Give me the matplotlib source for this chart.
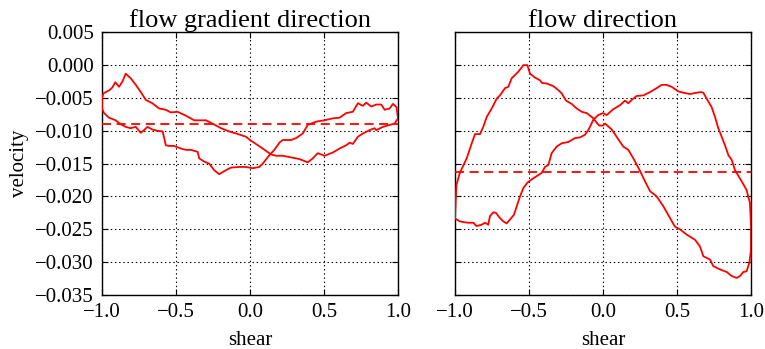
import matplotlib
matplotlib.use("Agg")
import matplotlib.pyplot as plt
from matplotlib.ticker import FuncFormatter

# Velocity loops over one shear cycle, two directions
grad_shear = [-1.0, -0.99, -0.95, -0.93, -0.91, -0.885, -0.862, -0.84, -0.806, -0.772,
              -0.738, -0.704, -0.66, -0.614, -0.569, -0.535, -0.49, -0.433, -0.377, -0.298,
              -0.253, -0.196, -0.14, -0.095, -0.027, 0.0, 0.04, 0.086, 0.142, 0.176,
              0.221, 0.289, 0.334, 0.39, 0.424, 0.458, 0.503, 0.56, 0.605, 0.65,
              0.673, 0.695, 0.729, 0.763, 0.808, 0.842, 0.853, 0.898, 0.943, 0.977,
              1.0,
              0.99, 0.966, 0.943, 0.91, 0.887, 0.853, 0.819, 0.785, 0.763, 0.729,
              0.695, 0.65, 0.605, 0.56, 0.503, 0.447, 0.39, 0.357, 0.312, 0.278,
              0.221, 0.199, 0.165, 0.131, 0.086, 0.063, 0.018, -0.027, -0.072, -0.129,
              -0.163, -0.208, -0.242, -0.275, -0.309, -0.343, -0.354, -0.4, -0.433, -0.467,
              -0.513, -0.546, -0.569, -0.59, -0.625, -0.66, -0.693, -0.716, -0.738, -0.772,
              -0.806, -0.84, -0.874, -0.908, -0.953, -0.986, -1.0, -1.0]
grad_velocity = [-0.0050, -0.0043, -0.0038, -0.0034, -0.0026, -0.0033, -0.0025, -0.0013, -0.0020, -0.0030,
                 -0.0041, -0.0053, -0.0058, -0.0066, -0.0068, -0.0072, -0.0071, -0.0077, -0.0084, -0.0084,
                 -0.0089, -0.0096, -0.0101, -0.0104, -0.0109, -0.0114, -0.0120, -0.0127, -0.0136, -0.0138,
                 -0.0138, -0.0141, -0.0143, -0.0148, -0.0142, -0.0134, -0.0138, -0.0133, -0.0127, -0.0122,
                 -0.0118, -0.0120, -0.0109, -0.0104, -0.0099, -0.0096, -0.0099, -0.0094, -0.0091, -0.0089,
                 -0.0081,
                 -0.0064, -0.0059, -0.0066, -0.0068, -0.0060, -0.0060, -0.0063, -0.0057, -0.0062, -0.0058,
                 -0.0071, -0.0073, -0.0080, -0.0081, -0.0084, -0.0086, -0.0091, -0.0104, -0.0111, -0.0114,
                 -0.0114, -0.0118, -0.0129, -0.0137, -0.0150, -0.0155, -0.0157, -0.0155, -0.0155, -0.0156,
                 -0.0160, -0.0166, -0.0160, -0.0150, -0.0147, -0.0142, -0.0132, -0.0129, -0.0129, -0.0127,
                 -0.0123, -0.0123, -0.0122, -0.0101, -0.0100, -0.0098, -0.0094, -0.0099, -0.0103, -0.0094,
                 -0.0096, -0.0094, -0.0090, -0.0084, -0.0080, -0.0073, -0.0066, -0.0050]
grad_mean = -0.0090

flow_shear = [-1.0, -0.995, -0.99, -0.97, -0.955, -0.921, -0.887, -0.865, -0.831, -0.809,
              -0.786, -0.752, -0.718, -0.696, -0.662, -0.64, -0.617, -0.595, -0.572, -0.538,
              -0.511, -0.493, -0.459, -0.426, -0.414, -0.38, -0.336, -0.302, -0.279, -0.25,
              -0.212, -0.178, -0.144, -0.11, -0.065, -0.027, 0.0, 0.014, 0.059, 0.092,
              0.137, 0.171, 0.205, 0.25, 0.284, 0.318, 0.363, 0.408, 0.453, 0.486,
              0.52, 0.565, 0.622, 0.655, 0.678, 0.723, 0.745, 0.79, 0.836, 0.869,
              0.903, 0.926, 0.948, 0.97, 0.989, 1.0, 1.0, 0.993, 0.97, 0.937,
              0.903, 0.892, 0.869, 0.847, 0.824, 0.802, 0.779, 0.757, 0.734, 0.7,
              0.678, 0.66, 0.633, 0.588, 0.543, 0.509, 0.464, 0.43, 0.396, 0.363,
              0.318, 0.273, 0.227, 0.194, 0.171, 0.149, 0.115, 0.07, 0.025, 0.0,
              -0.032, -0.065, -0.099, -0.122, -0.155, -0.189, -0.234, -0.279, -0.313, -0.347,
              -0.369, -0.392, -0.414, -0.448, -0.482, -0.511, -0.538, -0.561, -0.583, -0.602,
              -0.628, -0.651, -0.673, -0.696, -0.723, -0.741, -0.764, -0.775, -0.797, -0.82,
              -0.854, -0.876, -0.91, -0.944, -0.966, -0.989, -1.0]
flow_velocity = [-0.0233, -0.0205, -0.0182, -0.0166, -0.0158, -0.0142, -0.0119, -0.0105, -0.0105, -0.0094,
                 -0.0079, -0.0066, -0.0051, -0.0046, -0.0035, -0.0033, -0.0020, -0.0015, -0.0010, 0.0000,
                 0.0000, -0.0013, -0.0019, -0.0023, -0.0027, -0.0028, -0.0032, -0.0038, -0.0043, -0.0054,
                 -0.0059, -0.0066, -0.0071, -0.0073, -0.0081, -0.0092, -0.0092, -0.0089, -0.0098, -0.0109,
                 -0.0124, -0.0129, -0.0142, -0.0161, -0.0177, -0.0192, -0.0200, -0.0215, -0.0233, -0.0246,
                 -0.0250, -0.0258, -0.0266, -0.0276, -0.0291, -0.0296, -0.0306, -0.0311, -0.0315, -0.0321,
                 -0.0324, -0.0321, -0.0315, -0.0314, -0.0301, -0.0281, -0.0245, -0.0210, -0.0190, -0.0177,
                 -0.0164, -0.0160, -0.0144, -0.0137, -0.0122, -0.0109, -0.0096, -0.0079, -0.0064, -0.0051,
                 -0.0042, -0.0041, -0.0042, -0.0044, -0.0042, -0.0040, -0.0033, -0.0030, -0.0030, -0.0035,
                 -0.0041, -0.0046, -0.0047, -0.0053, -0.0058, -0.0054, -0.0061, -0.0067, -0.0076, -0.0073,
                 -0.0076, -0.0083, -0.0099, -0.0106, -0.0110, -0.0111, -0.0117, -0.0119, -0.0124, -0.0134,
                 -0.0152, -0.0155, -0.0164, -0.0169, -0.0174, -0.0179, -0.0187, -0.0200, -0.0215, -0.0228,
                 -0.0235, -0.0241, -0.0238, -0.0233, -0.0225, -0.0224, -0.0230, -0.0243, -0.0240, -0.0243,
                 -0.0245, -0.0240, -0.0240, -0.0239, -0.0238, -0.0235, -0.0233]
flow_mean = -0.0162

titles = ["flow gradient direction", "flow direction"]
x_ticks = [-1.0, -0.5, 0.0, 0.5, 1.0]
y_ticks = [0.005, 0.000, -0.005, -0.010, -0.015, -0.020, -0.025, -0.030, -0.035]

plt.rcParams["font.family"] = ["Liberation Serif", "DejaVu Serif"]
plt.rcParams["lines.scale_dashes"] = False


def signed(fmt):
    return FuncFormatter(lambda v, pos: (fmt % v).replace("-", "\u2212"))


fig = plt.figure(figsize=(7.65, 3.49), dpi=100, facecolor="white")
ax1 = fig.add_axes([102 / 765, 54 / 349, 296 / 765, 262.7 / 349])
ax2 = fig.add_axes([455 / 765, 54 / 349, 296 / 765, 262.7 / 349], sharey=ax1)

panels = [(grad_shear, grad_velocity, grad_mean),
          (flow_shear, flow_velocity, flow_mean)]

for ax, (xs, ys, m), title in zip([ax1, ax2], panels, titles):
    ax.plot(xs, ys, color="red", lw=1.3, zorder=3)
    ax.axhline(m, color="red", lw=1.3, linestyle=(0, (6.5, 4.0)), zorder=3)
    ax.set_xlim(-1.0, 1.0)
    ax.set_ylim(-0.035, 0.005)
    ax.set_xticks(x_ticks)
    ax.set_yticks(y_ticks)
    ax.grid(True, color="black", linestyle=(0, (1, 2)), linewidth=0.8)
    ax.tick_params(direction="in", top=True, right=True, length=4, width=0.8,
                   labelsize=15, pad=6)
    for sp in ax.spines.values():
        sp.set_linewidth(1.0)
    ax.set_title(title, fontsize=19, pad=4)
    ax.set_xlabel("shear", fontsize=15, labelpad=6)
    ax.xaxis.set_major_formatter(signed("%.1f"))

ax1.set_ylabel("velocity", fontsize=15, labelpad=4)
ax1.yaxis.set_major_formatter(signed("%.3f"))
plt.setp(ax2.get_yticklabels(), visible=False)

fig.savefig("out.png", dpi=100, facecolor="white")
